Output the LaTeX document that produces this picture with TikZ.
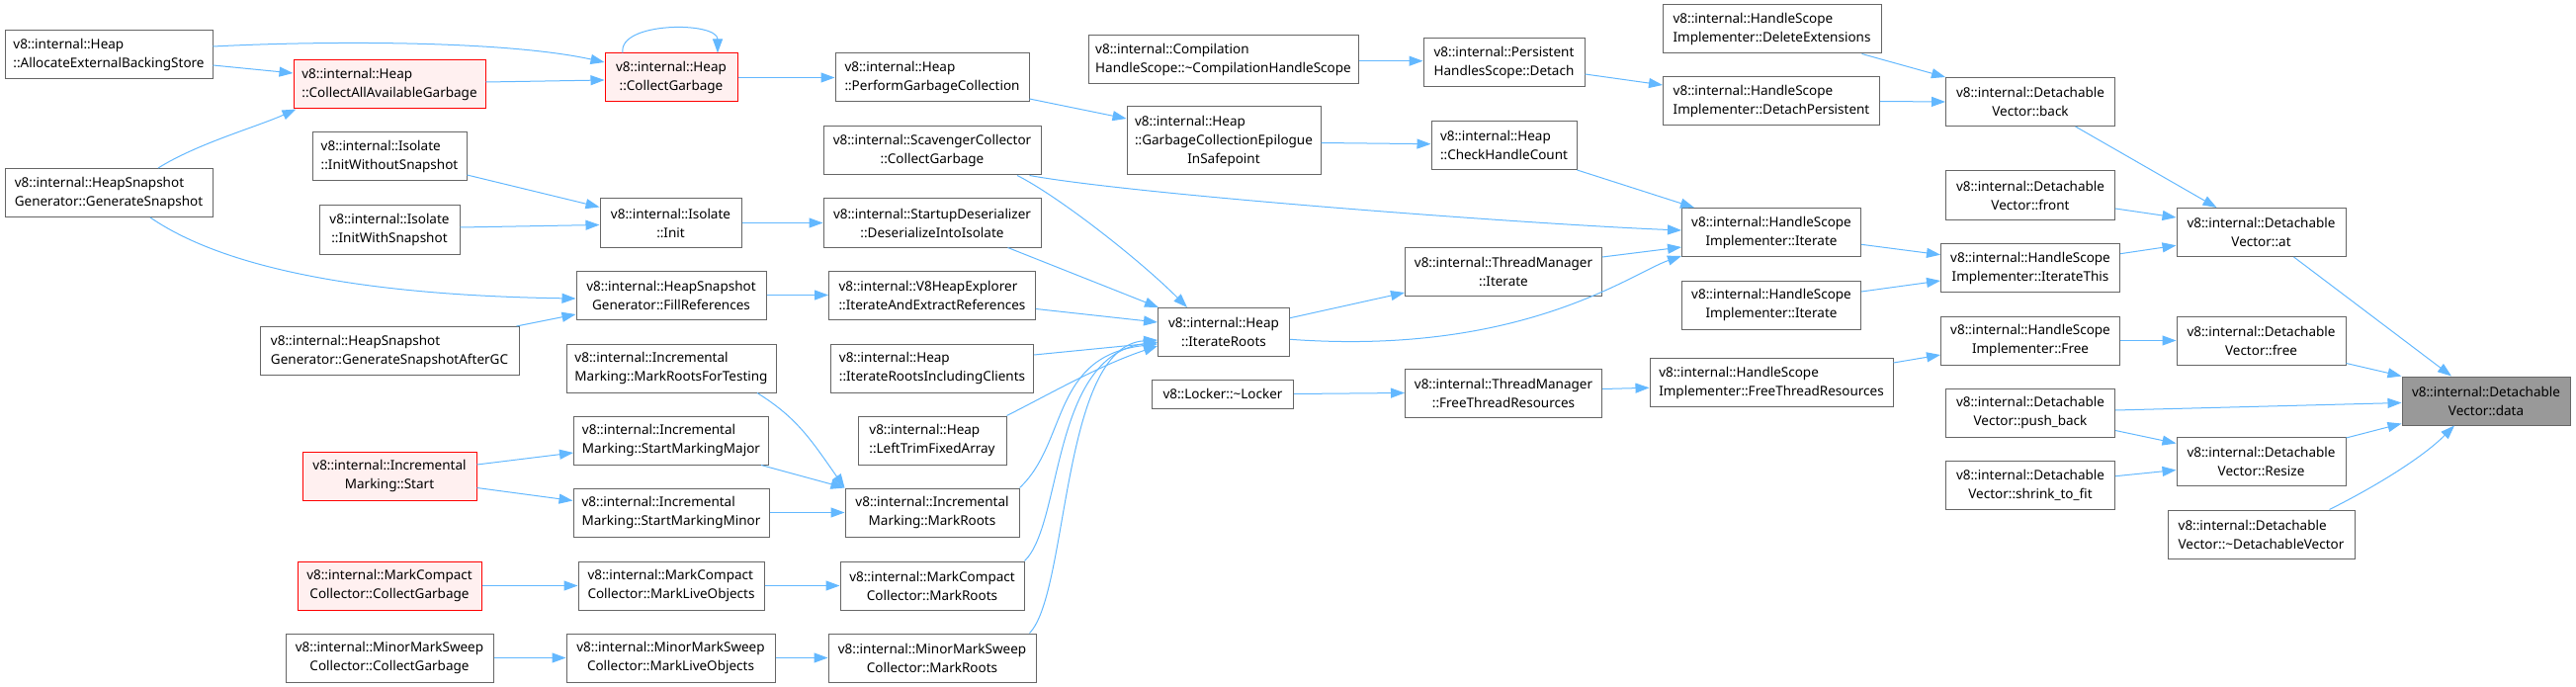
\documentclass[tikz,border=0pt]{standalone}
\usepackage{fontspec}
\setmainfont{Noto Sans}
\usetikzlibrary{arrows.meta}
\definecolor{edgec}{HTML}{63B8FF}
\definecolor{bordc}{HTML}{666666}
\definecolor{truncfill}{HTML}{FFF0F0}
\definecolor{hlfill}{HTML}{999999}
\newcommand\nodefont{\fontsize{13.5}{19}\selectfont}
\newcommand\twoln[2]{{\setbox0=\hbox{#1}\setbox2=\hbox{#2}\dimen0=\wd0 \ifdim\wd2>\dimen0 \dimen0=\wd2 \fi\vbox{\hbox to\dimen0{\box0\hfil}\hbox to\dimen0{\hfil\box2\hfil}}}}
\newcommand\threeln[3]{{\setbox0=\hbox{#1}\setbox2=\hbox{#2}\setbox4=\hbox{#3}\dimen0=\wd0 \ifdim\wd2>\dimen0 \dimen0=\wd2 \fi\ifdim\wd4>\dimen0 \dimen0=\wd4 \fi\vbox{\hbox to\dimen0{\box0\hfil}\hbox to\dimen0{\box2\hfil}\hbox to\dimen0{\hfil\box4\hfil}}}}
\newcommand\tld{\textasciitilde}
\tikzset{
  fn/.style={draw=bordc, fill=white, line width=1pt, inner sep=0pt, font=\nodefont, minimum height=49pt},
  trunc/.style={fn, draw=red, fill=truncfill},
  hl/.style={fn, fill=hlfill},
  e/.style={draw=edgec, line width=1pt, -{Triangle[length=14pt,width=10pt]}},
}
\begin{document}
\begin{tikzpicture}[x=1pt,y=-1pt]
\useasboundingbox (0,0) rectangle (2606,695);
% column 1
\node[fn, minimum width=210pt] (aebs) at (110,55) {\twoln{v8::internal::Heap}{::AllocateExternalBackingStore}};
\node[fn, minimum width=210pt] (gs) at (110,195) {\twoln{v8::internal::HeapSnapshot}{Generator::GenerateSnapshot}};
% column 2
\node[trunc, minimum width=194pt] (caag) at (394,85.5) {\twoln{v8::internal::Heap}{::CollectAllAvailableGarbage}};
\node[fn, minimum width=156pt] (iwos) at (394,158.5) {\twoln{v8::internal::Isolate}{::InitWithoutSnapshot}};
\node[fn, minimum width=142pt] (iws) at (394,232.5) {\twoln{v8::internal::Isolate}{::InitWithSnapshot}};
\node[fn, minimum width=262pt] (gsagc) at (394,355) {\twoln{v8::internal::HeapSnapshot}{Generator::GenerateSnapshotAfterGC}};
\node[trunc, minimum width=176pt] (ims) at (394,481.5) {\twoln{v8::internal::Incremental}{Marking::Start}};
\node[trunc, minimum width=186pt] (mccg) at (394,592.5) {\twoln{v8::internal::MarkCompact}{Collector::CollectGarbage}};
\node[fn, minimum width=210pt] (mmscg) at (394,665.5) {\twoln{v8::internal::MinorMarkSweep}{Collector::CollectGarbage}};
% column 3
\node[trunc, minimum width=134pt] (cg) at (679,78.5) {\twoln{v8::internal::Heap}{::CollectGarbage}};
\node[fn, minimum width=143pt] (init) at (678.5,225.5) {\twoln{v8::internal::Isolate}{::Init}};
\node[fn, minimum width=192pt] (fr) at (679,298.5) {\twoln{v8::internal::HeapSnapshot}{Generator::FillReferences}};
\node[fn, minimum width=212pt] (mrft) at (679,372.5) {\twoln{v8::internal::Incremental}{Marking::MarkRootsForTesting}};
\node[fn, minimum width=197pt] (smmaj) at (679,445.5) {\twoln{v8::internal::Incremental}{Marking::StartMarkingMajor}};
\node[fn, minimum width=198pt] (smmin) at (679,518.5) {\twoln{v8::internal::Incremental}{Marking::StartMarkingMinor}};
\node[fn, minimum width=188pt] (mclo) at (679,592.5) {\twoln{v8::internal::MarkCompact}{Collector::MarkLiveObjects}};
\node[fn, minimum width=211pt] (mmslo) at (678.5,665.5) {\twoln{v8::internal::MinorMarkSweep}{Collector::MarkLiveObjects}};
% column 4
\node[fn, minimum width=196pt] (pgc) at (943,78.5) {\twoln{v8::internal::Heap}{::PerformGarbageCollection}};
\node[fn, minimum width=220pt] (sc) at (943,152.5) {\twoln{v8::internal::ScavengerCollector}{::CollectGarbage}};
\node[fn, minimum width=220pt] (dii) at (943,225.5) {\twoln{v8::internal::StartupDeserializer}{::DeserializeIntoIsolate}};
\node[fn, minimum width=209pt] (iaer) at (943,298.5) {\twoln{v8::internal::V8HeapExplorer}{::IterateAndExtractReferences}};
\node[fn, minimum width=205pt] (iric) at (943,372.5) {\twoln{v8::internal::Heap}{::IterateRootsIncludingClients}};
\node[fn, minimum width=150pt] (ltfa) at (943,445.5) {\twoln{v8::internal::Heap}{::LeftTrimFixedArray}};
\node[fn, minimum width=176pt] (imr) at (943,518.5) {\twoln{v8::internal::Incremental}{Marking::MarkRoots}};
\node[fn, minimum width=186pt] (mcmr) at (943,592.5) {\twoln{v8::internal::MarkCompact}{Collector::MarkRoots}};
\node[fn, minimum width=210pt] (mmsmr) at (943,665.5) {\twoln{v8::internal::MinorMarkSweep}{Collector::MarkRoots}};
% column 5
\node[fn, minimum width=273pt] (chs) at (1237.5,60.5) {\twoln{v8::internal::Compilation}{HandleScope::\tld CompilationHandleScope}};
\node[fn, minimum width=196pt, minimum height=69pt] (gce) at (1238,142.5) {\threeln{v8::internal::Heap}{::GarbageCollectionEpilogue}{InSafepoint}};
\node[fn, minimum width=133pt] (ir) at (1238,336) {\twoln{v8::internal::Heap}{::IterateRoots}};
\node[fn, minimum width=143pt, minimum height=29pt] (locker) at (1237,398.5) {v8::Locker::\tld Locker};
% column 6
\node[fn, minimum width=163pt] (detach) at (1521.5,63) {\twoln{v8::internal::Persistent}{HandlesScope::Detach}};
\node[fn, minimum width=147pt] (chc) at (1521.5,147) {\twoln{v8::internal::Heap}{::CheckHandleCount}};
\node[fn, minimum width=199pt] (tmi) at (1521,275) {\twoln{v8::internal::ThreadManager}{::Iterate}};
\node[fn, minimum width=199pt] (tmftr) at (1521,397.5) {\twoln{v8::internal::ThreadManager}{::FreeThreadResources}};
% column 7
\node[fn, minimum width=221pt] (de) at (1792.5,29.5) {\twoln{v8::internal::HandleScope}{Implementer::DeleteExtensions}};
\node[fn, minimum width=219pt] (dp) at (1792,102.5) {\twoln{v8::internal::HandleScope}{Implementer::DetachPersistent}};
\node[fn, minimum width=181pt] (hsia) at (1792,235) {\twoln{v8::internal::HandleScope}{Implementer::Iterate}};
\node[fn, minimum width=181pt] (hsib) at (1792,308.5) {\twoln{v8::internal::HandleScope}{Implementer::Iterate}};
\node[fn, minimum width=246pt] (hsiftr) at (1792,387) {\twoln{v8::internal::HandleScope}{Implementer::FreeThreadResources}};
% column 8
\node[fn, minimum width=171pt] (back) at (2054,103) {\twoln{v8::internal::Detachable}{Vector::back}};
\node[fn, minimum width=171pt] (front) at (2054,197.5) {\twoln{v8::internal::Detachable}{Vector::front}};
\node[fn, minimum width=181pt] (ithis) at (2054,271) {\twoln{v8::internal::HandleScope}{Implementer::IterateThis}};
\node[fn, minimum width=181pt] (hfree) at (2054,344.5) {\twoln{v8::internal::HandleScope}{Implementer::Free}};
\node[fn, minimum width=171pt] (pb) at (2054,417.5) {\twoln{v8::internal::Detachable}{Vector::push\_back}};
\node[fn, minimum width=171pt] (stf) at (2054,491) {\twoln{v8::internal::Detachable}{Vector::shrink\_to\_fit}};
% column 9
\node[fn, minimum width=171pt] (at) at (2287.5,235) {\twoln{v8::internal::Detachable}{Vector::at}};
\node[fn, minimum width=171pt] (dvfree) at (2287.5,344.5) {\twoln{v8::internal::Detachable}{Vector::free}};
\node[fn, minimum width=171pt] (resize) at (2287.5,466.5) {\twoln{v8::internal::Detachable}{Vector::Resize}};
\node[fn, minimum width=189pt] (dtor) at (2287.5,540.5) {\twoln{v8::internal::Detachable}{Vector::\tld DetachableVector}};
% column 10
\node[hl, minimum width=170pt] (data) at (2515,405.5) {\twoln{v8::internal::Detachable}{Vector::data}};
% edges
\draw[e] ([yshift=8pt]aebs.east) .. controls +(115,-6) and +(-100,-22) .. ([yshift=15.5pt]cg.west);
\draw[e] ([yshift=-11pt]aebs.east) -- ([yshift=11.5pt]caag.west);
\draw[e] ([yshift=2.5pt]caag.east) -- ([yshift=-2.5pt]cg.west);
\draw[e] ([xshift=-49pt]cg.north) .. controls +(-5,-32) and +(0,-32) .. ([xshift=47pt]cg.north);
\draw[e] ([xshift=50pt]gs.north) .. controls +(40,-25) and +(-40,18) .. ([xshift=3pt]caag.south west);
\draw[e] ([xshift=42pt]gs.south) .. controls +(80,55) and +(-200,-3) .. ([yshift=-3.5pt]fr.west);
\draw[e] ([yshift=-18.5pt]iwos.east) -- ([yshift=16pt]init.west);
\draw[e] ([yshift=2.5pt]iws.east) -- ([yshift=-2pt]init.west);
\draw[e] ([xshift=-3pt]gsagc.north east) -- ([yshift=-19.5pt]fr.west);
\draw[e] (cg.east) -- (pgc.west);
\draw[e] (init.east) -- (dii.west);
\draw[e] (fr.east) -- (iaer.west);
\draw[e] ([yshift=11.5pt]ims.east) -- ([yshift=-12.5pt]smmaj.west);
\draw[e] ([yshift=-12pt]ims.east) -- ([yshift=12pt]smmin.west);
\draw[e] (mccg.east) -- (mclo.west);
\draw[e] (mmscg.east) -- (mmslo.west);
\draw[e] ([xshift=87pt]mrft.south) .. controls +(40,25) and +(-35,-50) .. (imr.north west);
\draw[e] ([xshift=91pt]smmaj.south) -- (imr.north west);
\draw[e] (smmin.east) -- (imr.west);
\draw[e] (mclo.east) -- (mcmr.west);
\draw[e] (mmslo.east) -- (mmsmr.west);
\draw[e] ([yshift=-21.5pt]pgc.east) -- ([yshift=22.5pt]gce.west);
\draw[e] ([xshift=86pt]sc.south) .. controls +(40,20) and +(-50,-50) .. ([xshift=-37pt]ir.north);
\draw[e] ([xshift=-12pt]sc.south east) .. controls +(110,20) and +(-150,-6) .. ([yshift=2pt]hsia.west);
\draw[e] ([xshift=76.5pt]dii.south) -- ([xshift=1pt]ir.north west);
\draw[e] ([yshift=-14pt]iaer.east) -- ([yshift=10pt]ir.west);
\draw[e] ([yshift=13.5pt]iric.east) -- ([yshift=-10.7pt]ir.west);
\draw[e] (ltfa.north east) .. controls +(40,-20) and +(-60,20) .. ([yshift=-14pt]ir.west);
\draw[e] (imr.north east) .. controls +(49,-46) and +(-108,12) .. ([yshift=-12pt]ir.west);
\draw[e] (mcmr.north east) .. controls +(39,-38) and +(-108,14) .. ([yshift=-10pt]ir.west);
\draw[e] ([xshift=-7pt]mmsmr.north east) .. controls +(40,-41) and +(-98,6) .. ([yshift=-8pt]ir.west);
\draw[e] ([yshift=-1.2pt]chs.east) -- ([yshift=1.3pt]detach.west);
\draw[e] ([yshift=-2pt]gce.east) -- ([yshift=1.3pt]chc.west);
\draw[e] ([yshift=-12pt]detach.east) -- ([yshift=16.5pt]dp.west);
\draw[e] (chc.south east) -- ([xshift=13pt]hsia.north west);
\draw[e] ([yshift=14.3pt]ir.east) -- ([yshift=-21pt]tmi.west);
\draw[e] ([yshift=-7.3pt]ir.east) .. controls +(236,17) and +(-50,17) .. ([yshift=1pt]hsia.south west);
\draw[e] ([yshift=15pt]tmi.east) -- ([yshift=-15pt]hsia.west);
\draw[e] (locker.east) -- (tmftr.west);
\draw[e] ([yshift=4pt]tmftr.east) -- ([yshift=-5.3pt]hsiftr.west);
\draw[e] ([xshift=-20pt]de.south east) -- (back.north west);
\draw[e] (dp.east) -- (back.west);
\draw[e] ([yshift=-12.3pt]hsia.east) -- ([yshift=13.3pt]ithis.west);
\draw[e] ([yshift=13.5pt]hsib.east) -- ([yshift=-13pt]ithis.west);
\draw[e] ([yshift=20pt]hsiftr.east) -- ([yshift=-14.5pt]hfree.west);
\draw[e] ([xshift=45.6pt]back.south) -- ([xshift=-45pt]at.north);
\draw[e] ([yshift=-13.5pt]front.east) -- ([yshift=15pt]at.west);
\draw[e] ([yshift=14.3pt]ithis.east) -- ([yshift=-13.3pt]at.west);
\draw[e] (hfree.east) -- (dvfree.west);
\draw[e] ([xshift=33pt]at.south) -- ([xshift=-35pt]data.north);
\draw[e] ([yshift=-23pt]dvfree.east) -- (data.north west);
\draw[e] ([yshift=2.5pt]pb.east) -- ([yshift=-2pt]data.west);
\draw[e] ([yshift=-18pt]pb.east) -- ([yshift=18pt]resize.west);
\draw[e] ([yshift=9.3pt]stf.east) -- ([yshift=-9pt]resize.west);
\draw[e] ([yshift=23.5pt]resize.east) -- ([yshift=2pt]data.south west);
\draw[e] ([xshift=69pt]dtor.north) .. controls +(40,-20) and +(-35,35) .. ([xshift=-32pt]data.south);
\end{tikzpicture}
\end{document}
